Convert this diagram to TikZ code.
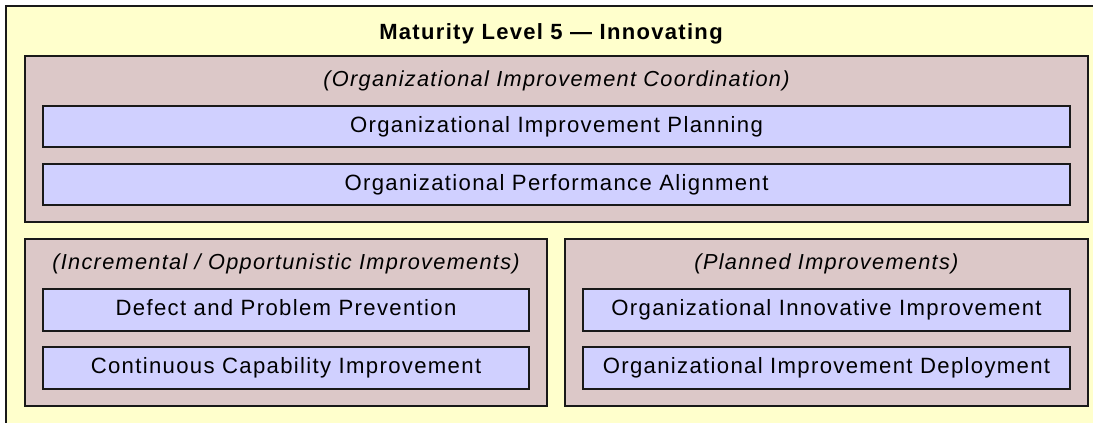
\documentclass[tikz,border=0pt]{standalone}
\usepackage{fontspec}
\setmainfont{Liberation Sans}[LetterSpace=6.0]
\definecolor{lvlyellow}{RGB}{255,255,204}
\definecolor{grppink}{RGB}{220,200,200}
\definecolor{pablue}{RGB}{208,208,255}
\begin{document}
\begin{tikzpicture}[x=0.75pt,y=-0.75pt,
  every node/.style={inner sep=0pt, outer sep=0pt},
  frame/.style={draw=black!90, line width=1.15pt, rectangle},
  levelbox/.style={rectangle, fill=lvlyellow},
  levelframe/.style={draw=black!90, line width=1.15pt},
  groupbox/.style={frame, fill=grppink},
  pabox/.style={frame, fill=pablue, font=\fontsize{16.6pt}{19pt}\selectfont,
    text height=12pt, text depth=3.4pt},
  titletext/.style={font=\fontsize{16.5pt}{19pt}\selectfont\bfseries, anchor=base},
  headtext/.style={font=\fontsize{16.3pt}{19pt}\selectfont\itshape, anchor=base}
  ]
\useasboundingbox (0,0) rectangle (1093,422);
\fill[white] (0,0) rectangle (1093,422);
% outer level box (runs past the right and bottom edges of the picture)
\node[levelbox, anchor=north west, minimum width=870pt, minimum height=340pt] (level) at (6,6) {};
\draw[levelframe] (level.south west) -- (level.north west) -- (level.north east);
\node[titletext] (title) at (551,39) {Maturity Level 5 — Innovating};
% top group
\node[groupbox, minimum width=797.25pt, minimum height=124.5pt] (coord) at (556.5,139) {};
\node[headtext] (coordhead) at (556.5,86) {(Organizational Improvement Coordination)};
\node[pabox, minimum width=770.25pt, minimum height=30.75pt] (oip) at (556.5,126.5) {Organizational Improvement Planning};
\node[pabox, minimum width=770.25pt, minimum height=30.75pt] (opa) at (556.5,184.5) {Organizational Performance Alignment};
% bottom left group
\node[groupbox, minimum width=391.5pt, minimum height=125.25pt] (incr) at (286,322.5) {};
\node[headtext] (incrhead) at (286,269) {(Incremental / Opportunistic Improvements)};
\node[pabox, minimum width=364.5pt, minimum height=31.5pt] (dpp) at (286,310) {Defect and Problem Prevention};
\node[pabox, minimum width=364.5pt, minimum height=31.5pt] (cci) at (286,368) {Continuous Capability Improvement};
% bottom right group
\node[groupbox, minimum width=392.25pt, minimum height=125.25pt] (plan) at (826.5,322.5) {};
\node[headtext] (planhead) at (826.5,269) {(Planned Improvements)};
\node[pabox, minimum width=365.25pt, minimum height=31.5pt] (oii) at (826.5,310) {Organizational Innovative Improvement};
\node[pabox, minimum width=365.25pt, minimum height=31.5pt] (oid) at (826.5,368) {Organizational Improvement Deployment};
\end{tikzpicture}
\end{document}
